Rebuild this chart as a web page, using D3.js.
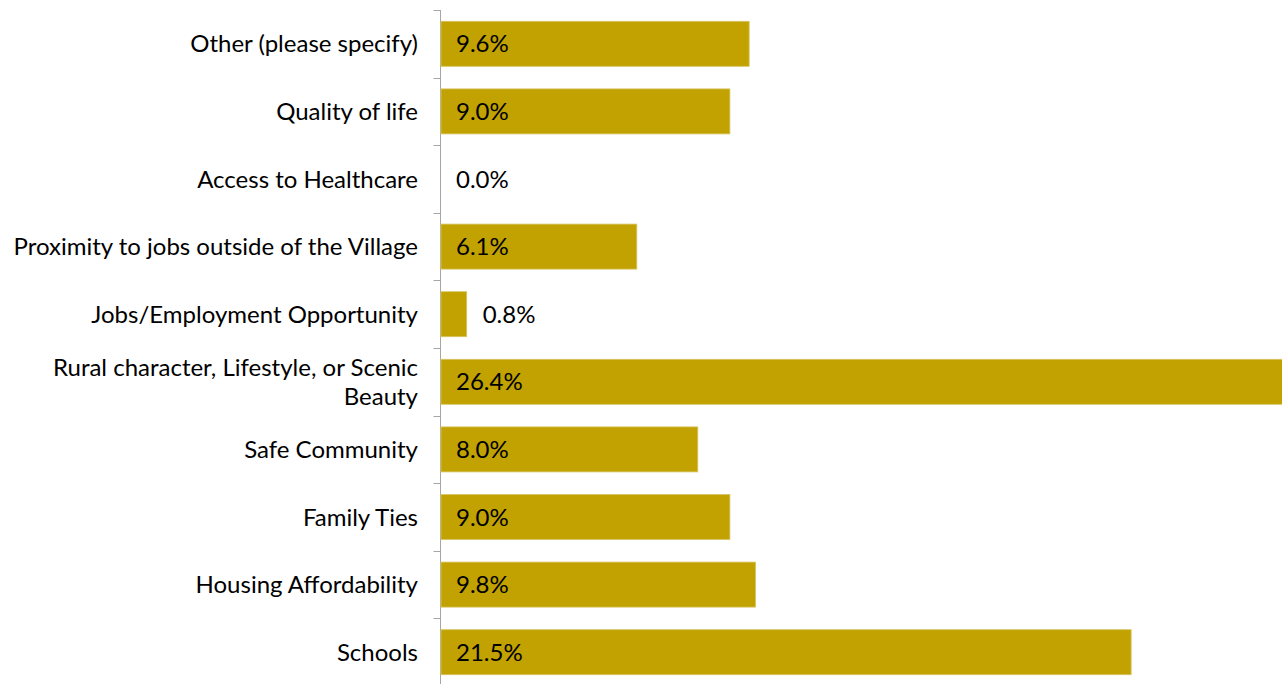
<!DOCTYPE html>
<html>
<head>
<meta charset="utf-8">
<script src="https://cdn.jsdelivr.net/npm/d3@7"></script>
<style>
  html, body { margin: 0; padding: 0; background: #fff; }
  svg { display: block; }
  text { font-family: Lato, "Open Sans", sans-serif; fill: #000; }
</style>
</head>
<body>
<svg id="chart" width="1282" height="684"></svg>
<script>
// Reasons for living in the Village (share of responses, %)
const categories = [
  "Other (please specify)",
  "Quality of life",
  "Access to Healthcare",
  "Proximity to jobs outside of the Village",
  "Jobs/Employment Opportunity",
  "Rural character, Lifestyle, or Scenic Beauty",
  "Safe Community",
  "Family Ties",
  "Housing Affordability",
  "Schools"
];
const values = [9.6, 9.0, 0.0, 6.1, 0.8, 26.4, 8.0, 9.0, 9.8, 21.5];

const width = 1282, height = 684;
const svg = d3.select("#chart");

const x = d3.scaleLinear().domain([0, 30]).range([441, 441 + 30 * 32.1]);
const y = d3.scaleBand().domain(categories).range([10, 686]).paddingInner(0.334).paddingOuter(0.167);
const step = y.step();

// value axis baseline with tick marks between categories
const axisX = 440.5;
svg.append("line")
  .attr("x1", axisX).attr("x2", axisX)
  .attr("y1", 10).attr("y2", height)
  .attr("stroke", "#a6a6a6").attr("stroke-width", 1);

const tickPos = d3.range(categories.length + 1).map(i => 10 + i * step);
svg.selectAll("line.tick").data(tickPos).join("line")
  .attr("class", "tick")
  .attr("x1", axisX - 7).attr("x2", axisX)
  .attr("y1", d => Math.round(d) + 0.5).attr("y2", d => Math.round(d) + 0.5)
  .attr("stroke", "#a6a6a6").attr("stroke-width", 1);

// bars
svg.selectAll("rect.bar").data(values).join("rect")
  .attr("class", "bar")
  .attr("x", x(0))
  .attr("y", (d, i) => y(categories[i]))
  .attr("width", d => x(d) - x(0))
  .attr("height", y.bandwidth())
  .attr("fill", "#c1a201")
  .attr("stroke", d => d > 0 ? "#d8c565" : "none")
  .attr("stroke-width", 0.8);

// value labels
const fontSize = 24;
svg.selectAll("text.val").data(values).join("text")
  .attr("class", "val")
  .attr("x", d => (x(d) - x(0) < 60 && d > 0) ? x(d) + 16 : x(0) + 15)
  .attr("y", (d, i) => y(categories[i]) + y.bandwidth() / 2)
  .attr("dy", "0.36em")
  .attr("font-size", fontSize)
  .text(d => d.toFixed(1) + "%");

// category labels, wrapped onto two lines where too long
const maxLabelWidth = 412;
categories.forEach((c, i) => {
  const cy = y(c) + y.bandwidth() / 2;
  const t = svg.append("text")
    .attr("text-anchor", "end")
    .attr("font-size", fontSize)
    .attr("x", 418);
  t.text(c);
  if (t.node().getComputedTextLength() > maxLabelWidth) {
    t.text(null);
    const words = c.split(" ");
    let lines = [], cur = [];
    words.forEach(w => {
      const test = cur.concat(w).join(" ");
      t.text(test);
      if (t.node().getComputedTextLength() > maxLabelWidth && cur.length) {
        lines.push(cur.join(" "));
        cur = [w];
      } else cur.push(w);
    });
    lines.push(cur.join(" "));
    t.text(null);
    const lh = 29;
    lines.forEach((l, k) => {
      t.append("tspan").attr("x", 418)
        .attr("y", cy + (k - (lines.length - 1) / 2) * lh)
        .attr("dy", "0.36em").text(l);
    });
  } else {
    t.attr("y", cy).attr("dy", "0.36em");
  }
});
</script>
</body>
</html>
